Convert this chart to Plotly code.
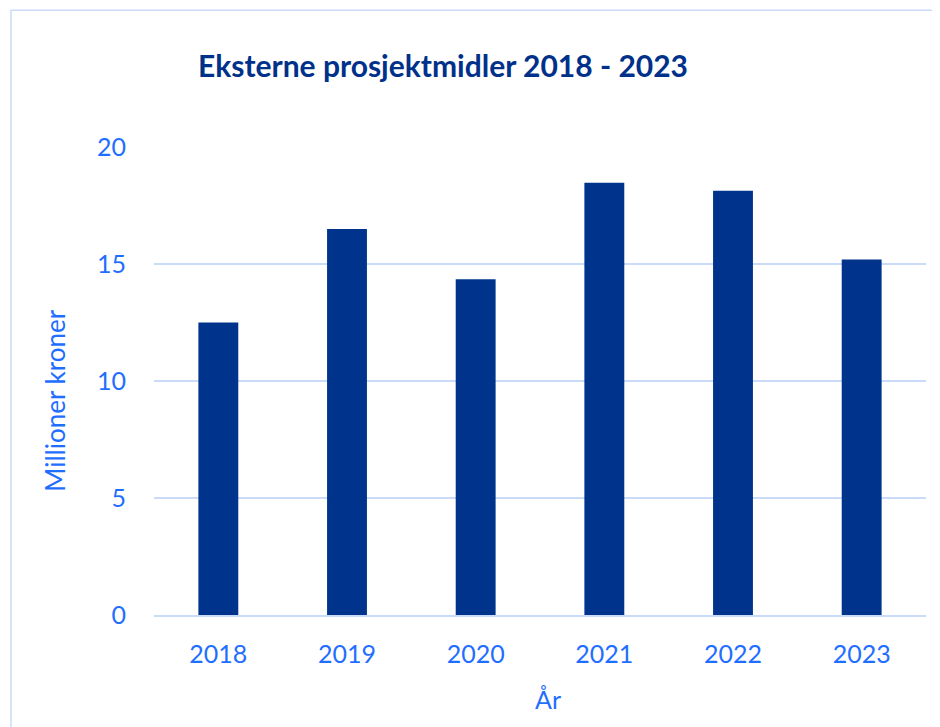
import plotly.graph_objects as go

years = ["2018", "2019", "2020", "2021", "2022", "2023"]
values = [12.5, 16.5, 14.35, 18.47, 18.13, 15.19]
y_ticks = [0, 5, 10, 15, 20]

title_text = "Eksterne prosjektmidler 2018 - 2023"
y_title = "Millioner kroner"
x_title = "År"

BAR = "#00348C"
TITLE = "#00318A"
TICK = "#1F6EFF"
GRID = "#C9DBF9"
FONT = "Lato"

# page is offset by the 8px body margin
OFF = 8
L, R, T, B = 154 - OFF, 926 - OFF, 147 - OFF, 615.5 - OFF
PW, PH = R - L, B - T

fig = go.Figure(go.Bar(x=years, y=values, marker=dict(color=BAR, line=dict(width=0)), width=0.31))

fig.update_layout(
    width=940, height=727,
    margin=dict(l=L, r=940 - R, t=T, b=727 - B),
    paper_bgcolor="white", plot_bgcolor="white",
    showlegend=False,
    font=dict(family=FONT, color=TICK, size=25),
    title=dict(text="<b>" + title_text + "</b>", x=(443 - OFF) / 940, xanchor="center",
               y=1 - (66 - OFF) / 727, yanchor="middle",
               font=dict(family=FONT, size=30, color=TITLE)),
    bargap=0.69,
)
fig.update_xaxes(
    showgrid=False, showline=True, linecolor=GRID, linewidth=1.5,
    ticks="outside", tickcolor="rgba(0,0,0,0)", ticklen=16,
    tickfont=dict(family=FONT, size=25, color=TICK),
)
fig.update_yaxes(
    range=[0, 20], tickvals=y_ticks, showgrid=True, gridcolor=GRID, gridwidth=1.5,
    zeroline=False, showline=False,
    ticks="outside", tickcolor="rgba(0,0,0,0)", ticklen=22,
    tickfont=dict(family=FONT, size=25, color=TICK),
)
fig.add_annotation(text=y_title, xref="paper", yref="paper",
                   x=(55 - 154) / PW, y=(615.5 - 401) / PH, textangle=-90,
                   showarrow=False, xanchor="center", yanchor="middle",
                   font=dict(family=FONT, size=26, color=TICK))
fig.add_annotation(text=x_title, xref="paper", yref="paper",
                   x=(548 - 154) / PW, y=(615.5 - 700) / PH,
                   showarrow=False, xanchor="center", yanchor="middle",
                   font=dict(family=FONT, size=25, color=TICK))
fig.add_shape(type="rect", xref="paper", yref="paper",
              x0=(11 - 154) / PW, x1=1.2, y0=-0.4, y1=(615.5 - 10) / PH,
              line=dict(color=GRID, width=1.5), fillcolor="rgba(0,0,0,0)", layer="below")

fig.write_html("out.html")
